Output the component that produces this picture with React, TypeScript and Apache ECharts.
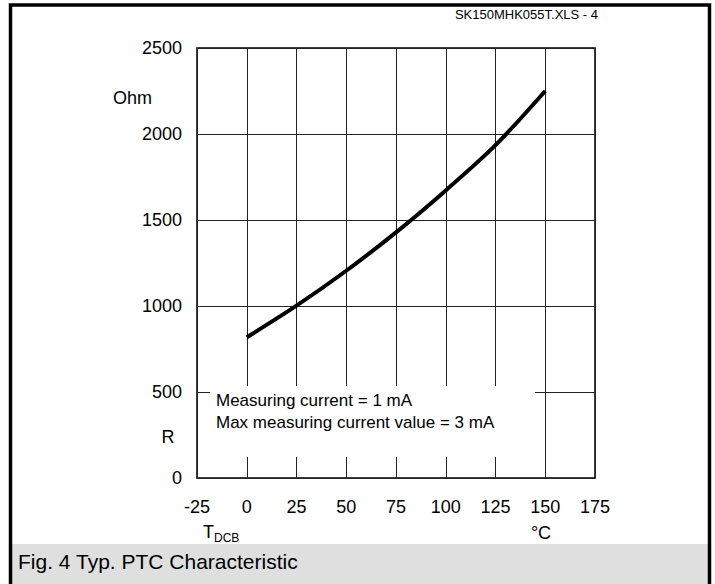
import React, { useEffect, useRef } from "react";
import * as echarts from "echarts";

const temperatures = [0, 25, 50, 75, 100, 125, 150];
const resistances = [818, 1002, 1205, 1428, 1672, 1935, 2250];
const xMin = -25;
const xMax = 175;
const xStep = 25;
const yMin = 0;
const yMax = 2500;
const yStep = 500;
const headerText = "SK150MHK055T.XLS - 4";
const captionText = "Fig. 4 Typ. PTC Characteristic";
const noteLines = ["Measuring current = 1 mA", "Max measuring current value = 3 mA"];
const yUnit = "Ohm";
const yName = "R";
const xNameMain = "T";
const xNameSub = "DCB";
const xUnit = "°C";

const FONT = "'Liberation Sans', Arial, sans-serif";

export default function App() {
  const ref = useRef<HTMLDivElement>(null);
  useEffect(() => {
    if (!ref.current) return;
    const chart = echarts.init(ref.current, undefined, { renderer: "svg" });
    const data = temperatures.map((t, i) => [t, resistances[i]]);
    chart.setOption({
      animation: false,
      backgroundColor: "#ffffff",
      grid: {
        left: 197,
        top: 48,
        width: 398,
        height: 430,
        show: true,
        borderColor: "#000",
        borderWidth: 1.5,
        backgroundColor: "transparent",
      },
      xAxis: {
        type: "value",
        min: xMin,
        max: xMax,
        interval: xStep,
        axisLine: { show: false },
        axisTick: { show: false },
        axisLabel: {
          color: "#000",
          fontSize: 18,
          fontFamily: FONT,
          margin: 20,
          formatter: (v: number) => String(v),
        },
        splitLine: { show: true, lineStyle: { color: "#222", width: 1 } },
      },
      yAxis: {
        type: "value",
        min: yMin,
        max: yMax,
        interval: yStep,
        axisLine: { show: false },
        axisTick: { show: false },
        axisLabel: {
          color: "#000",
          fontSize: 18,
          fontFamily: FONT,
          margin: 15,
          formatter: (v: number) => String(v),
        },
        splitLine: { show: true, lineStyle: { color: "#222", width: 1 } },
      },
      series: [
        {
          type: "line",
          data,
          smooth: 0.3,
          showSymbol: false,
          lineStyle: { color: "#000", width: 4 },
          z: 3,
        },
      ],
      graphic: [
        { type: "rect", z: 1, shape: { x: 12, y: 544, width: 697, height: 45 }, style: { fill: "#dfdfdf" } },
        { type: "rect", z: 2, shape: { x: 10.5, y: 5, width: 699, height: 610 }, style: { fill: "none", stroke: "#000", lineWidth: 3.5 } },
        { type: "rect", z: 50, shape: { x: 210, y: 386, width: 325, height: 71 }, style: { fill: "#fff" } },
        { type: "text", z: 60, x: 598, y: 14, style: { text: headerText, fontSize: 13, fontFamily: FONT, fill: "#000", align: "right", verticalAlign: "middle" } },
        { type: "text", z: 60, x: 216, y: 400, style: { text: noteLines[0], fontSize: 17, fontFamily: FONT, fill: "#000", align: "left", verticalAlign: "middle" } },
        { type: "text", z: 60, x: 216, y: 422, style: { text: noteLines[1], fontSize: 17, fontFamily: FONT, fill: "#000", align: "left", verticalAlign: "middle" } },
        { type: "text", z: 60, x: 152, y: 98, style: { text: yUnit, fontSize: 18, fontFamily: FONT, fill: "#000", align: "right", verticalAlign: "middle" } },
        { type: "text", z: 60, x: 168, y: 437, style: { text: yName, fontSize: 18, fontFamily: FONT, fill: "#000", align: "center", verticalAlign: "middle" } },
        { type: "text", z: 60, x: 203, y: 532, style: { text: xNameMain, fontSize: 18, fontFamily: FONT, fill: "#000", align: "left", verticalAlign: "middle" } },
        { type: "text", z: 60, x: 214, y: 538, style: { text: xNameSub, fontSize: 12, fontFamily: FONT, fill: "#000", align: "left", verticalAlign: "middle" } },
        { type: "text", z: 60, x: 541, y: 533, style: { text: xUnit, fontSize: 18, fontFamily: FONT, fill: "#000", align: "center", verticalAlign: "middle" } },
        { type: "text", z: 60, x: 18, y: 561, style: { text: captionText, fontSize: 21, fontFamily: FONT, fill: "#000", align: "left", verticalAlign: "middle" } },
      ],
    });
    return () => chart.dispose();
  }, []);
  return (
    <div
      ref={ref}
      style={{ position: "absolute", left: 0, top: 0, width: 715, height: 584 }}
    />
  );
}
